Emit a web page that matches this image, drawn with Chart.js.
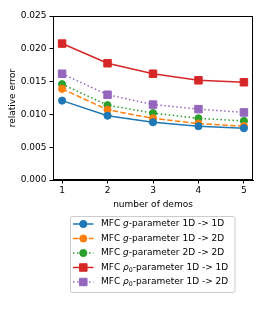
<!DOCTYPE html>
<html><head><meta charset="utf-8">
<script src="https://cdn.jsdelivr.net/npm/chart.js@4"></script>
<style>html,body{margin:0;padding:0;background:#fff}canvas{display:block}</style>
</head>
<body>
<canvas id="c" width="266" height="332"></canvas>
<script>
// ---- data ----
const demos = [1, 2, 3, 4, 5];
const gParam1Dto1D = [0.0121, 0.0098, 0.0088, 0.0082, 0.0079];
const gParam1Dto2D = [0.0139, 0.0107, 0.0094, 0.0086, 0.0082];
const gParam2Dto2D = [0.0146, 0.0114, 0.0102, 0.0094, 0.0090];
const rhoParam1Dto1D = [0.0208, 0.0178, 0.0162, 0.0152, 0.0149];
const rhoParam1Dto2D = [0.0162, 0.0130, 0.0115, 0.0108, 0.0103];
const yTicks = [0, 0.005, 0.010, 0.015, 0.020, 0.025];
const labels = [
  [['MFC ', 'n'], ['g', 'i'], ['-parameter 1D -> 1D', 'n']],
  [['MFC ', 'n'], ['g', 'i'], ['-parameter 1D -> 2D', 'n']],
  [['MFC ', 'n'], ['g', 'i'], ['-parameter 2D -> 2D', 'n']],
  [['MFC ', 'n'], ['ρ', 'i'], ['0', 's'], ['-parameter 1D -> 1D', 'n']],
  [['MFC ', 'n'], ['ρ', 'i'], ['0', 's'], ['-parameter 1D -> 2D', 'n']]
];
const FONT = 'DejaVu Sans';
const FS = 9;

const pts = arr => demos.map((d, i) => ({x: d, y: arr[i]}));
function ds(arr, color, dash, style) {
  return {
    data: pts(arr), borderColor: color, backgroundColor: color,
    pointBackgroundColor: color, pointBorderColor: color,
    borderWidth: 1.5, borderDash: dash, pointStyle: style,
    pointRadius: style === 'rect' ? 5.3 : 3.6, pointBorderWidth: 1,
    tension: 0, fill: false
  };
}
const datasets = [
  ds(gParam1Dto1D, '#1f77b4', [], 'circle'),
  ds(gParam1Dto2D, '#ff7f0e', [5.5, 2.4], 'circle'),
  ds(gParam2Dto2D, '#2ca02c', [1.5, 2.5], 'circle'),
  ds(rhoParam1Dto1D, '#d62728', [], 'rect'),
  ds(rhoParam1Dto2D, '#9467bd', [1.5, 2.5], 'rect')
];

const framePlugin = {
  id: 'frame',
  afterDraw(chart) {
    const {ctx, chartArea: a} = chart;
    ctx.save();
    ctx.strokeStyle = '#000'; ctx.lineWidth = 1;
    ctx.strokeRect(Math.round(a.left) + 0.5, Math.round(a.top) + 0.5, Math.round(a.right - a.left) - 1, Math.round(a.bottom - a.top) - 1);
    ctx.restore();
  }
};

const legendPlugin = {
  id: 'mplLegend',
  afterDraw(chart) {
    const ctx = chart.ctx;
    const x0 = 70.5, y0 = 216.5, w = 164.5, h = 76, r = 2;
    ctx.save();
    ctx.beginPath();
    ctx.moveTo(x0 + r, y0); ctx.lineTo(x0 + w - r, y0); ctx.arcTo(x0 + w, y0, x0 + w, y0 + r, r);
    ctx.lineTo(x0 + w, y0 + h - r); ctx.arcTo(x0 + w, y0 + h, x0 + w - r, y0 + h, r);
    ctx.lineTo(x0 + r, y0 + h); ctx.arcTo(x0, y0 + h, x0, y0 + h - r, r);
    ctx.lineTo(x0, y0 + r); ctx.arcTo(x0, y0, x0 + r, y0, r); ctx.closePath();
    ctx.fillStyle = 'rgba(255,255,255,0.8)'; ctx.fill();
    ctx.strokeStyle = '#cccccc'; ctx.lineWidth = 1; ctx.stroke();
    const rows = [224, 238.5, 253, 267.5, 282];
    chart.data.datasets.forEach((d, i) => {
      const y = rows[i];
      ctx.strokeStyle = d.borderColor; ctx.lineWidth = d.borderWidth;
      ctx.setLineDash(d.borderDash);
      ctx.beginPath(); ctx.moveTo(73, y); ctx.lineTo(93.5, y); ctx.stroke();
      ctx.setLineDash([]);
      ctx.fillStyle = d.pointBackgroundColor;
      ctx.lineWidth = d.pointBorderWidth;
      Chart.helpers.drawPoint(ctx, {pointStyle: d.pointStyle, radius: d.pointRadius, borderWidth: d.pointBorderWidth, rotation: 0}, 83.3, y);
      let tx = 101;
      ctx.fillStyle = '#000'; ctx.textBaseline = 'middle';
      labels[i].forEach(([t, s]) => {
        if (s === 'n') { ctx.font = FS + 'px "' + FONT + '"'; ctx.fillText(t, tx, y); }
        else if (s === 'i') { ctx.font = 'oblique ' + FS + 'px "' + FONT + '"'; ctx.fillText(t, tx, y); }
        else { ctx.font = (FS * 0.7) + 'px "' + FONT + '"'; ctx.fillText(t, tx, y + 2.5); }
        tx += ctx.measureText(t).width;
      });
    });
    ctx.restore();
  }
};

new Chart(document.getElementById('c'), {
  type: 'line',
  data: {datasets},
  options: {
    responsive: false, animation: false, devicePixelRatio: 1,
    layout: {padding: {left: 0, top: 16, right: 13, bottom: 122}},
    plugins: {legend: {display: false}, tooltip: {enabled: false}},
    elements: {line: {borderCapStyle: 'butt'}},
    scales: {
      x: {
        type: 'linear', min: 0.8, max: 5.2,
        afterBuildTicks: s => { s.ticks = demos.map(v => ({value: v})); },
        afterFit: s => { s.height = 30; },
        grid: {drawOnChartArea: false, drawTicks: true, tickLength: 3.5, color: '#000'},
        border: {display: true, color: '#000', width: 1},
        ticks: {color: '#000', font: {family: FONT, size: FS}, padding: 2, maxRotation: 0, callback: v => String(v)},
        title: {display: true, text: 'number of demos', color: '#000', font: {family: FONT, size: FS}, padding: {top: 0, bottom: 0}}
      },
      y: {
        type: 'linear', min: 0, max: 0.025,
        afterBuildTicks: s => { s.ticks = yTicks.map(v => ({value: v})); },
        afterFit: s => { s.width = 53; },
        grid: {drawOnChartArea: false, drawTicks: true, tickLength: 3.5, color: '#000'},
        border: {display: true, color: '#000', width: 1},
        ticks: {color: '#000', font: {family: FONT, size: FS}, padding: 3, callback: v => v.toFixed(3)},
        title: {display: true, text: 'relative error', color: '#000', font: {family: FONT, size: FS}, padding: {top: 7.5, bottom: 2}}
      }
    }
  },
  plugins: [framePlugin, legendPlugin]
});
</script>
</body></html>
